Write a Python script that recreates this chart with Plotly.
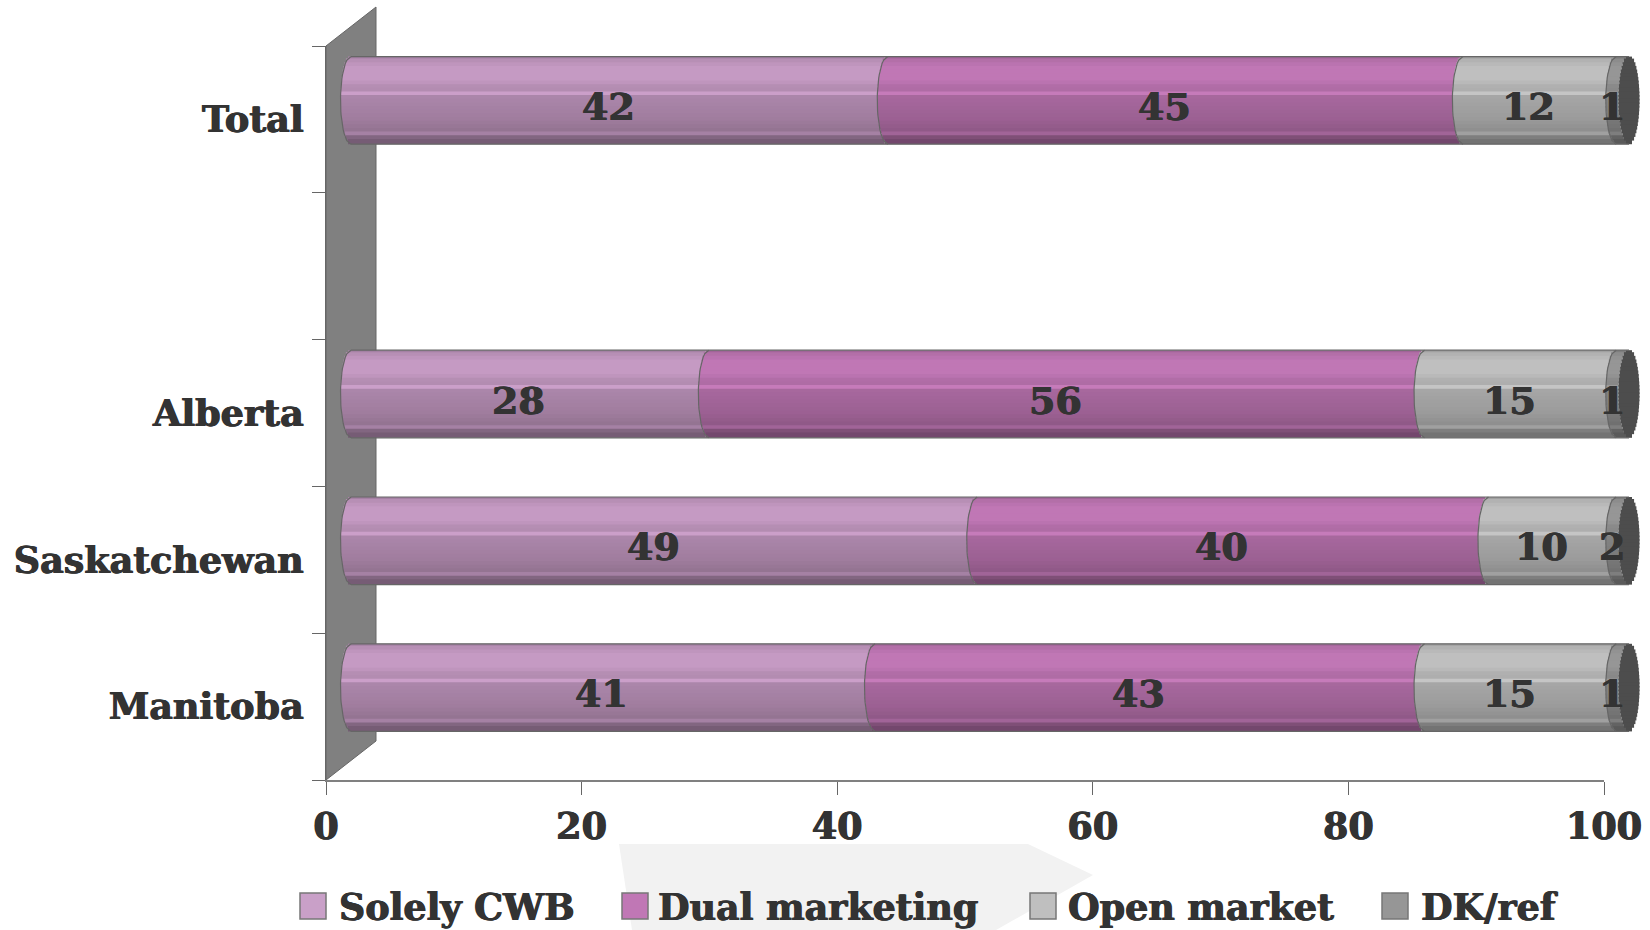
import plotly.graph_objects as go

categories = ["Manitoba", "Saskatchewan", "Alberta", "", "Total"]
solely_cwb = [41, 49, 28, None, 42]
dual_marketing = [43, 40, 56, None, 45]
open_market = [15, 10, 15, None, 12]
dk_ref = [1, 2, 1, None, 1]
x_ticks = [0, 20, 40, 60, 80, 100]
series_names = ["Solely CWB", "Dual marketing", "Open market", "DK/ref"]
series_values = [solely_cwb, dual_marketing, open_market, dk_ref]
series_colors = [(197, 154, 195), (192, 119, 181), (191, 191, 191), (150, 150, 150)]
legend_colors = ["#c9a0c8", "#c077b5", "#bfbfbf", "#969696"]

# Layout in pixels
W, H = 1650, 930
L, R, T, B = 326, 1645, 7, 780      # plot region
AX_R, AX_T = 1604, 46              # front axes extents
DX, DY = 25, 19                    # 3-D offset of the bars
BULGE = 10.5                       # half width of the cylinder end, px
BAR_H = 0.597
AX_MAX = 100
PX_X = (AX_R - L) / 100
PX_Y = (B - AX_T) / 5
TXT = "#333333"
FONT = "DejaVu Serif"
FAT = "0.6px 0 0 #333333, -0.6px 0 0 #333333"

# Vertical shading of the cylinder, top to bottom
SHADE = [0.84, 0.93, 0.97, 1.0, 1.0, 1.0, 1.0, 0.97, 0.92, 0.91, 0.89, 0.87,
         0.86, 0.85, 0.84, 0.83, 0.82, 0.81, 0.79, 0.77, 0.75, 0.72, 0.66, 0.60]
N = len(SHADE)
HILITE = {10: 1.03, 21: 0.84}
STRIPE = BAR_H / N


def rgb(c, f):
    return "rgb(%d,%d,%d)" % tuple(min(255, round(v * f)) for v in c)


def bulge_at(t):
    u = 2 * t - 1
    return (BULGE / PX_X) * (max(0.0, 1 - u * u)) ** 0.5


def stripe_width(k):
    # each band reaches up under the previous edge so no seam shows
    return STRIPE if k == 0 else STRIPE * 1.45


rows = [i for i, v in enumerate(solely_cwb) if v is not None]
fig = go.Figure()

# Front axes carry the ticks; this invisible trace keeps them on the page
fig.add_trace(go.Scatter(x=[0, AX_MAX], y=[0, 4], mode="markers", marker=dict(opacity=0, size=1),
                         xaxis="x", yaxis="y", showlegend=False, hoverinfo="skip"))

# Stacks are clipped at the top of the axis, as the value axis stops at 100
vis_start, vis_width = [], []
for s, vals in enumerate(series_values):
    st, wd = [], []
    for r in rows:
        b = sum(series_values[j][r] for j in range(s))
        st.append(b)
        wd.append(min(vals[r], AX_MAX - b))
    vis_start.append(st)
    vis_width.append(wd)

# Cylinder stripes, one bar per band per segment
for s in range(len(series_values)):
    for k, shade in enumerate(SHADE):
        d = bulge_at((k + 0.5) / N)
        f = HILITE.get(k, shade)
        fig.add_trace(go.Bar(
            y=rows, x=vis_width[s], base=[b - d for b in vis_start[s]],
            orientation="h", width=stripe_width(k),
            offset=BAR_H / 2 - (k + 1) * STRIPE,
            marker=dict(color=rgb(series_colors[s], f), line=dict(width=0)),
            xaxis="x2", yaxis="y2", showlegend=False, hoverinfo="skip"))

# Dark end cap
totals = [vis_start[-1][i] + vis_width[-1][i] for i in range(len(rows))]
for k in range(N):
    d = bulge_at((k + 0.5) / N)
    fig.add_trace(go.Bar(
        y=rows, x=[2 * d] * len(rows), base=[t - d for t in totals],
        orientation="h", width=stripe_width(k),
        offset=BAR_H / 2 - (k + 1) * STRIPE,
        marker=dict(color="#4d4d4d", line=dict(width=0)),
        xaxis="x2", yaxis="y2", showlegend=False, hoverinfo="skip"))

# Outlines
ox, oy = [], []
for i, r in enumerate(rows):
    ox += [0, totals[i], None, 0, totals[i], None]
    oy += [r + BAR_H / 2, r + BAR_H / 2, None, r - BAR_H / 2, r - BAR_H / 2, None]
    for s in range(4):
        for j in range(25):
            t = j / 24
            ox.append(vis_start[s][i] - bulge_at(t))
            oy.append(r + BAR_H / 2 - t * BAR_H)
        ox.append(None)
        oy.append(None)
fig.add_trace(go.Scatter(x=ox, y=oy, mode="lines", line=dict(color="#666666", width=1.2),
                         xaxis="x2", yaxis="y2", showlegend=False, hoverinfo="skip"))

# Data labels
ann = []
for i, r in enumerate(rows):
    for s, vals in enumerate(series_values):
        ann.append(dict(x=vis_start[s][i] + vis_width[s][i] / 2, y=r, xref="x2", yref="y2",
                        text="<b>%d</b>" % vals[r], showarrow=False, xshift=-11, yshift=-6,
                        font=dict(family=FONT, size=38, color=TXT, shadow=FAT)))

# Legend
swatch_x = [300, 622, 1030, 1382]
text_x = [337, 656, 1066, 1419]
shapes = []


def px(x):
    return (x - L) / (R - L)


def py(y):
    return (B - y) / (B - T)


# Arrow in the background
arrow = [(619, 844), (1028, 844), (1093, 875), (996, 930), (632, 930)]
path = "M " + " L ".join("%.5f,%.5f" % (px(a), py(b)) for a, b in arrow) + " Z"
shapes.append(dict(type="path", path=path, xref="paper", yref="paper", layer="below",
                   fillcolor="#f2f2f2", line=dict(width=0)))
# Back wall
wall = [(L, B), (L + 50, B - 39), (L + 50, AX_T - 39), (L, AX_T)]
path = "M " + " L ".join("%.5f,%.5f" % (px(a), py(b)) for a, b in wall) + " Z"
shapes.append(dict(type="path", path=path, xref="paper", yref="paper", layer="below",
                   fillcolor="#808080", line=dict(color="#666666", width=1)))

for i, name in enumerate(series_names):
    shapes.append(dict(type="rect", xref="paper", yref="paper", x0=px(swatch_x[i]),
                       x1=px(swatch_x[i] + 26), y0=py(919), y1=py(893),
                       fillcolor=legend_colors[i], line=dict(color="#777777", width=1.5)))
    ann.append(dict(x=px(text_x[i]), y=py(907), xref="paper", yref="paper", xanchor="left",
                    yanchor="middle", text="<b>%s</b>" % name, showarrow=False,
                    font=dict(family=FONT, size=36.4, color=TXT, shadow=FAT)))

tick_font = dict(family=FONT, size=36.5, color=TXT, weight="bold", shadow=FAT)
fig.update_layout(
    width=W, height=H, autosize=False, plot_bgcolor="rgba(0,0,0,0)", paper_bgcolor="white",
    margin=dict(l=L, r=W - R, t=T, b=H - B, autoexpand=False), barmode="overlay", showlegend=False,
    shapes=shapes, annotations=ann,
    xaxis=dict(domain=[0, px(AX_R)], range=[0, AX_MAX], tickvals=x_ticks, ticks="outside", ticklen=13,
               tickcolor="#666666", tickwidth=1, showline=True, linecolor="#808080", linewidth=2,
               showgrid=False, zeroline=False, anchor="y", tickfont=tick_font, automargin=False),
    yaxis=dict(domain=[0, py(AX_T)], range=[-0.5, 4.5], tickvals=list(range(5)), ticktext=categories,
               ticks="", ticklabelstandoff=14, showgrid=False, zeroline=False, showline=True,
               linecolor="#666666", linewidth=1, anchor="x", automargin=False,
               minor=dict(ticks="outside", ticklen=13, tickcolor="#666666", tickwidth=1,
                          tickvals=[-0.5, 0.5, 1.5, 2.5, 3.5, 4.5], showgrid=False),
               tickfont=tick_font),
    xaxis2=dict(domain=[0, 1], range=[-DX / PX_X, (R - L - DX) / PX_X], visible=False,
                anchor="y2", fixedrange=True),
    yaxis2=dict(domain=[0, 1], range=[-0.5 - DY / PX_Y, -0.5 + (B - T - DY) / PX_Y], visible=False,
                anchor="x2", fixedrange=True),
)

fig.write_html("out.html", config=dict(displayModeBar=False),
               post_script="document.body.style.margin='0';")
